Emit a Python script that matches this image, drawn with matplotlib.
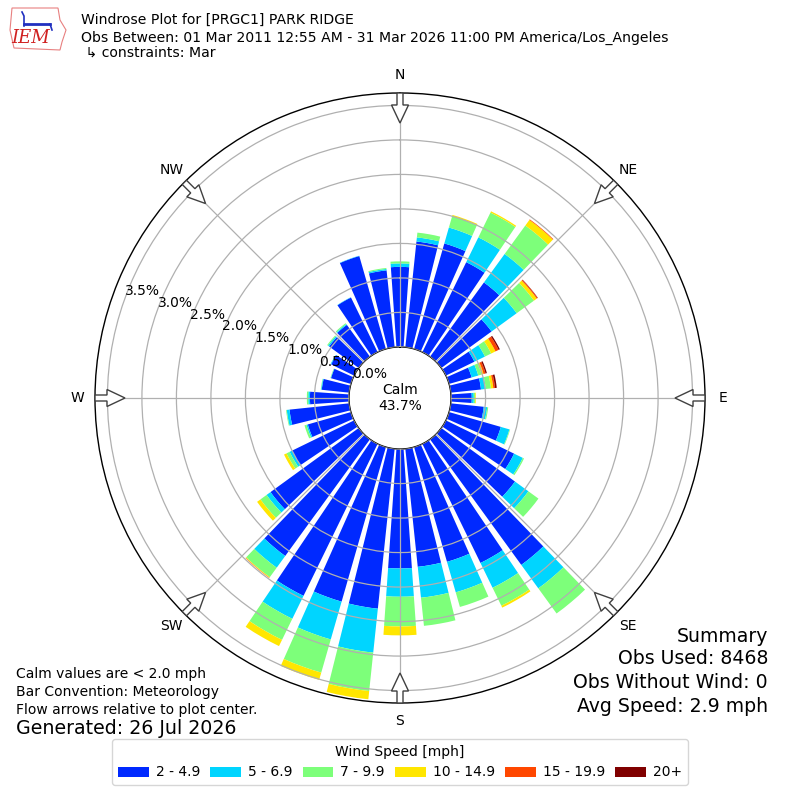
import numpy as np
import matplotlib
matplotlib.use("Agg")
import matplotlib.pyplot as plt
from matplotlib.patches import Patch, Polygon

# ---------------- data ----------------
directions = list(range(0, 360, 10))
speed_bins = ["2 - 4.9", "5 - 6.9", "7 - 9.9", "10 - 14.9", "15 - 19.9", "20+"]

# percent of observations per direction, per speed bin
spd_2_5 = [1.16, 1.54, 1.59, 1.45, 1.33, 0.90, 0.46, 0.34, 0.44, 0.30, 0.48, 0.78,
           1.10, 1.32, 2.25, 1.92, 1.73, 1.72, 1.73, 2.33, 2.33, 2.45, 2.09, 1.58,
           1.00, 0.65, 0.87, 0.565, 0.40, 0.30, 0.37, 0.53, 0.57, 0.88, 1.40, 1.12]
spd_5_7 = [0.05, 0.06, 0.24, 0.40, 0.51, 0.45, 0.17, 0.10, 0.07, 0.03, 0.05, 0.13,
           0.14, 0.24, 0.42, 0.40, 0.46, 0.45, 0.41, 0.64, 0.57, 0.37, 0.21, 0.07,
           0.04, 0.02, 0.04, 0.025, 0.01, 0.005, 0.01, 0.02, 0.015, 0.005, 0.005, 0.02]
spd_7_10 = [0.03, 0.07, 0.17, 0.40, 0.51, 0.31, 0.10, 0.05, 0.075, 0.02, 0.015, 0.01,
            0.02, 0.18, 0.45, 0.29, 0.22, 0.41, 0.43, 0.56, 0.50, 0.34, 0.17, 0.11,
            0.05, 0.03, 0.01, 0.02, 0.005, 0.005, 0.0, 0.015, 0.015, 0.0, 0.0, 0.015]
spd_10_15 = [0.0, 0.0, 0.02, 0.02, 0.10, 0.05, 0.07, 0.03, 0.035, 0.01, 0.0, 0.0,
             0.0, 0.0, 0.0, 0.03, 0.0, 0.0, 0.13, 0.12, 0.11, 0.10, 0.01, 0.06,
             0.04, 0.0, 0.0, 0.0, 0.0, 0.0, 0.0, 0.0, 0.0, 0.0, 0.0, 0.0]
spd_15_20 = [0.0, 0.0, 0.0, 0.0, 0.01, 0.015, 0.05, 0.03, 0.025, 0.0, 0.0, 0.0,
             0.0, 0.0, 0.0, 0.0, 0.0, 0.0, 0.0, 0.0, 0.0, 0.0, 0.005, 0.0,
             0.0, 0.0, 0.0, 0.0, 0.0, 0.0, 0.0, 0.0, 0.0, 0.0, 0.0, 0.0]
spd_20p = [0.0, 0.0, 0.0, 0.0, 0.0, 0.005, 0.02, 0.02, 0.025, 0.0, 0.0, 0.0,
           0.0, 0.0, 0.0, 0.0, 0.0, 0.0, 0.0, 0.0, 0.0, 0.0, 0.0, 0.0,
           0.0, 0.0, 0.0, 0.0, 0.0, 0.0, 0.0, 0.0, 0.0, 0.0, 0.0, 0.0]
series = [spd_2_5, spd_5_7, spd_7_10, spd_10_15, spd_15_20, spd_20p]

calm_pct = 43.7
r_ticks = [0.0, 0.5, 1.0, 1.5, 2.0, 2.5, 3.0, 3.5]
compass = ["N", "NE", "E", "SE", "S", "SW", "W", "NW"]
compass_deg = [0, 45, 90, 135, 180, 225, 270, 315]

title_lines = ["Windrose Plot for [PRGC1] PARK RIDGE",
               "Obs Between: 01 Mar 2011 12:55 AM - 31 Mar 2026 11:00 PM America/Los_Angeles",
               " \u21b3 constraints: Mar"]
left_notes = ["Calm values are < 2.0 mph", "Bar Convention: Meteorology",
              "Flow arrows relative to plot center."]
generated = "Generated: 26 Jul 2026"
summary = ["Summary", "Obs Used: 8468", "Obs Without Wind: 0", "Avg Speed: 2.9 mph"]

# ---------------- figure ----------------
plt.rcParams["font.family"] = ["DejaVu Sans"]
W = H = 800.0
fig = plt.figure(figsize=(8, 8), dpi=100)
ax = fig.add_axes([0.11875, 0.12125, 0.7625, 0.7625], projection="polar")
ax.set_theta_zero_location("N")
ax.set_theta_direction(-1)
ax.set_rorigin(-0.74)
ax.set_ylim(0, 3.68)

colors = plt.cm.jet(np.arange(1, 7) / 6.0)
theta = np.deg2rad(directions)
width = np.deg2rad(8)
bottom = np.zeros(len(directions))
handles = []
for vals, c, lab in zip(series, colors, speed_bins):
    vals = np.asarray(vals)
    ax.bar(theta, vals, width=width, bottom=bottom, color=c, linewidth=0)
    bottom = bottom + vals
    handles.append(Patch(facecolor=c, label=lab))

ax.set_axisbelow(False)
ax.set_yticks(r_ticks)
ax.set_yticklabels([f"{v:.1f}%" for v in r_ticks], fontsize=10)
ax.set_rlabel_position(290)
ax.set_xticks(np.deg2rad(compass_deg))
ax.set_xticklabels([])
ax.grid(True, color="#b0b0b0", linewidth=0.9)
ax.spines["polar"].set_color("black")
ax.spines["polar"].set_linewidth(1.0)
ax.spines["inner"].set_color("black")
ax.spines["inner"].set_linewidth(1.0)

for d, lab in zip(compass_deg, compass):
    ax.text(np.deg2rad(d), 3.94, lab, ha="center", va="center", fontsize=10, clip_on=False)

# hollow flow arrows pointing to the plot centre (pixel geometry, y down)
cx, cy = 400.0, 398.0
r_tail, r_neck, r_tip = 305.0, 293.0, 275.0
half_shaft, half_head = 3.0, 8.5
for d in compass_deg:
    a = np.deg2rad(d)
    u = np.array([np.sin(a), -np.cos(a)])
    p = np.array([np.cos(a), np.sin(a)])
    c0 = np.array([cx, cy])
    pts = [c0 + r_tail * u + half_shaft * p, c0 + r_neck * u + half_shaft * p,
           c0 + r_neck * u + half_head * p, c0 + r_tip * u,
           c0 + r_neck * u - half_head * p, c0 + r_neck * u - half_shaft * p,
           c0 + r_tail * u - half_shaft * p]
    pts = [(q[0] / W, 1 - q[1] / H) for q in pts]
    fig.patches.append(Polygon(pts, closed=True, facecolor="white", edgecolor="#404040",
                               linewidth=1.0, transform=fig.transFigure, zorder=5))

ax.text(0.5, 0.5, f"Calm\n{calm_pct:.1f}%", transform=ax.transAxes,
        ha="center", va="center", fontsize=10)

# ---------------- header ----------------
for t, y in zip(title_lines, [20, 37.5, 53]):
    fig.text(81 / W, 1 - y / H, t, fontsize=10.1, va="center", ha="left")

# simple IEM logo
logo_px = [(12, 8), (58, 8), (60, 20), (66, 30), (62, 42), (60, 50), (14, 48), (10, 30)]
fig.patches.append(Polygon([(x / W, 1 - y / H) for x, y in logo_px], closed=True, fill=False,
                           edgecolor="#e88080", linewidth=0.8, transform=fig.transFigure))
fig.lines.append(plt.Line2D([24 / W, 50 / W], [1 - 24 / H, 1 - 24 / H], color="#2030c0",
                            linewidth=2, transform=fig.transFigure))
fig.lines.append(plt.Line2D([22 / W, 24 / W, 24 / W], [1 - 12 / H, 1 - 16 / H, 1 - 26 / H],
                            color="#2030c0", linewidth=1.2, transform=fig.transFigure))
fig.lines.append(plt.Line2D([50 / W, 52 / W], [1 - 24 / H, 1 - 30 / H], color="#2030c0",
                            linewidth=1.2, transform=fig.transFigure))
fig.text(31 / W, 1 - 38 / H, "IEM", fontsize=13, color="#d02020", style="italic",
         family="DejaVu Serif", ha="center", va="center")

# ---------------- footer ----------------
for t, y in zip(left_notes, [674, 692, 710]):
    fig.text(16 / W, 1 - y / H, t, fontsize=10, va="center", ha="left")
fig.text(16 / W, 1 - 729 / H, generated, fontsize=13.7, va="center", ha="left")
for t, y in zip(summary, [636, 659, 683, 706]):
    fig.text(768 / W, 1 - y / H, t, fontsize=13.6, va="center", ha="right")

leg = fig.legend(handles=handles, loc="lower center", bbox_to_anchor=(0.5, 0.010), ncol=6,
                 title="Wind Speed [mph]", fontsize=10, title_fontsize=10, frameon=True,
                 columnspacing=0.75, handletextpad=0.5, handlelength=2.2)

fig.savefig("out.png", dpi=100)
